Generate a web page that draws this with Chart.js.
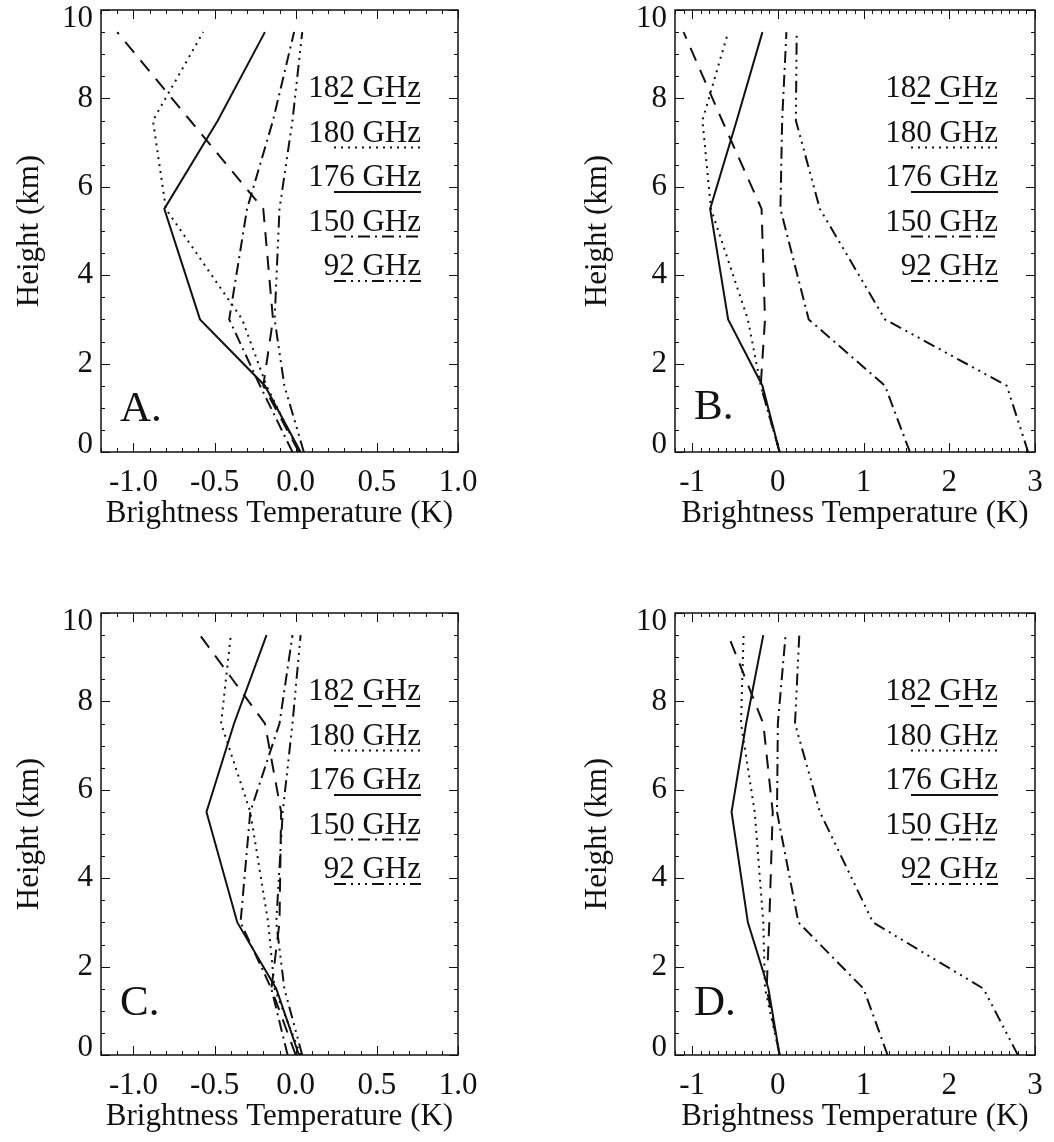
<!DOCTYPE html>
<html>
<head>
<meta charset="utf-8">
<script src="https://cdn.jsdelivr.net/npm/chart.js@4.4.0/dist/chart.umd.min.js"></script>
<style>
  body { margin: 0; background: #fff; width: 1054px; height: 1142px; position: relative; overflow: hidden; }
  .panel { position: absolute; }
</style>
</head>
<body>
<div class="panel" style="left:0px;top:0px;width:520px;height:538px"><canvas id="cA"></canvas></div>
<div class="panel" style="left:560px;top:0px;width:494px;height:538px"><canvas id="cB"></canvas></div>
<div class="panel" style="left:0px;top:603px;width:520px;height:538px"><canvas id="cC"></canvas></div>
<div class="panel" style="left:560px;top:603px;width:494px;height:538px"><canvas id="cD"></canvas></div>
<script>
// heights of the model levels (km)
const heights = [0, 1.5, 3, 5.5, 7.5, 9.5];
const freqs = ['182', '180', '176', '150', '92'];
const heightTicks = [0, 2, 4, 6, 8, 10];
const narrowTicks = [-1.0, -0.5, 0.0, 0.5, 1.0];
const wideTicks = [-1, 0, 1, 2, 3];

// brightness temperature differences (K), one value per height
const a182 = [0.02, -0.2, -0.14, -0.2, -0.65, -1.1];
const a180 = [0.02, -0.18, -0.33, -0.80, -0.88, -0.57];
const a176 = [0.03, -0.19, -0.59, -0.81, -0.48, -0.19];
const a150 = [-0.02, -0.22, -0.41, -0.30, -0.14, -0.01];
const a92 = [0.05, -0.07, -0.13, -0.10, -0.02, 0.04];

const b182 = [0.02, -0.2, -0.15, -0.19, -0.65, -1.1];
const b180 = [0.02, -0.2, -0.35, -0.78, -0.88, -0.58];
const b176 = [0.02, -0.18, -0.58, -0.79, -0.48, -0.18];
const b150 = [1.54, 1.25, 0.36, 0.03, 0.05, 0.1];
const b92 = [2.92, 2.67, 1.25, 0.49, 0.21, 0.22];

const c182 = [0.0, -0.15, -0.1, -0.09, -0.19, -0.59];
const c180 = [0.03, -0.13, -0.17, -0.28, -0.46, -0.40];
const c176 = [0.02, -0.12, -0.36, -0.55, -0.38, -0.18];
const c150 = [-0.05, -0.15, -0.34, -0.28, -0.1, -0.02];
const c92 = [0.04, -0.07, -0.12, -0.08, -0.02, 0.03];

const d182 = [0.02, -0.13, -0.1, -0.06, -0.17, -0.58];
const d180 = [0.02, -0.15, -0.17, -0.27, -0.43, -0.40];
const d176 = [0.02, -0.11, -0.35, -0.54, -0.37, -0.17];
const d150 = [1.28, 1.0, 0.24, -0.01, 0.0, 0.09];
const d92 = [2.8, 2.4, 1.11, 0.49, 0.2, 0.25];

const dashes = {
  '182': [14, 10],
  '180': [2, 5],
  '176': [],
  '150': [12, 5, 2, 5],
  '92': [12, 5, 2, 5, 2, 5, 2, 5]
};
const ink = '#111';
const serif = "'Liberation Serif', 'Times New Roman', serif";

// end labels of the height axis sit inside the frame, like the original
const nudgeLabels = {
  id: 'nudge',
  beforeDraw(chart) {
    chart.scales.y.getLabelItems().forEach(it => {
      if (it._nudged) return;
      if (it.label === '10') it.options.translation[1] += 9;
      if (it.label === '0') it.options.translation[1] -= 7;
      it._nudged = true;
    });
  }
};

// box with inward ticks, legend and panel letter
const decorPlugin = {
  id: 'decor',
  afterDraw(chart, args, opts) {
    const ctx = chart.ctx;
    const a = chart.chartArea;
    const xs = chart.scales.x, ys = chart.scales.y;
    ctx.save();
    ctx.strokeStyle = ink;
    ctx.lineWidth = 1.5;
    ctx.strokeRect(a.left, a.top, a.right - a.left, a.bottom - a.top);

    ctx.lineWidth = 1;
    ctx.beginPath();
    const nx = Math.round((xs.max - xs.min) / opts.xMinor);
    for (let i = 0; i <= nx; i++) {
      const v = xs.min + i * opts.xMinor;
      const major = Math.abs(v / opts.xMajor - Math.round(v / opts.xMajor)) < 1e-6;
      const len = major ? 9 : 4;
      const px = Math.round(xs.getPixelForValue(v)) + 0.5;
      ctx.moveTo(px, a.bottom); ctx.lineTo(px, a.bottom - len);
      ctx.moveTo(px, a.top); ctx.lineTo(px, a.top + len);
    }
    for (let v = 0; v <= 10.001; v += 0.5) {
      const major = Math.abs(v / 2 - Math.round(v / 2)) < 1e-6;
      const len = major ? 9 : 4;
      const py = Math.round(ys.getPixelForValue(v)) + 0.5;
      ctx.moveTo(a.left, py); ctx.lineTo(a.left + len, py);
      ctx.moveTo(a.right, py); ctx.lineTo(a.right - len, py);
    }
    ctx.stroke();

    // legend: text with the line style drawn as underline
    ctx.fillStyle = ink;
    ctx.font = '31px ' + serif;
    ctx.textAlign = 'right';
    ctx.textBaseline = 'alphabetic';
    const rx = a.right - 37;
    freqs.forEach((f, i) => {
      const uy = a.top + 93 + i * 44.5;
      ctx.fillText(f + ' GHz', rx, uy - 6);
      ctx.beginPath();
      ctx.setLineDash(dashes[f]);
      ctx.lineWidth = 2;
      ctx.moveTo(rx - 87, uy);
      ctx.lineTo(rx, uy);
      ctx.stroke();
    });
    ctx.setLineDash([]);

    ctx.font = '43px ' + serif;
    ctx.textAlign = 'left';
    ctx.fillText(opts.letter, a.left + 19, a.bottom - opts.letterLift);
    ctx.restore();
  }
};

function makeChart(id, series, xMin, xMax, xTicks, fmt, xMajor, xMinor, letter, letterLift, yAxisWidth, titlePad, rightPad) {
  const datasets = freqs.map((f, i) => ({
    label: f + ' GHz',
    data: series[i].map((v, k) => ({ x: v, y: heights[k] })),
    showLine: true,
    borderColor: ink,
    borderWidth: 2,
    borderDash: dashes[f],
    pointRadius: 0,
    fill: false,
    tension: 0
  }));
  new Chart(document.getElementById(id), {
    type: 'scatter',
    data: { datasets },
    plugins: [nudgeLabels, decorPlugin],
    options: {
      responsive: true,
      maintainAspectRatio: false,
      animation: false,
      layout: { padding: { top: 10, right: rightPad, bottom: 0, left: 0 } },
      plugins: {
        legend: { display: false },
        tooltip: { enabled: false },
        decor: { letter, letterLift, xMajor, xMinor }
      },
      scales: {
        x: {
          type: 'linear', min: xMin, max: xMax,
          afterBuildTicks: s => { s.ticks = xTicks.map(v => ({ value: v })); },
          afterFit: s => { s.height = 86; s.paddingLeft = 0; s.paddingRight = 0; },
          grid: { display: false, drawTicks: false },
          border: { display: false },
          ticks: { color: ink, font: { family: serif, size: 31 }, padding: 12, maxRotation: 0, autoSkip: false, callback: fmt },
          title: { display: true, text: 'Brightness Temperature (K)', color: ink, font: { family: serif, size: 31 }, padding: { top: 0, bottom: 6 } }
        },
        y: {
          type: 'linear', min: 0, max: 10,
          afterBuildTicks: s => { s.ticks = heightTicks.map(v => ({ value: v })); },
          afterFit: s => { s.width = yAxisWidth; s.paddingTop = 0; s.paddingBottom = 0; },
          grid: { display: false, drawTicks: false },
          border: { display: false },
          ticks: { color: ink, font: { family: serif, size: 31 }, padding: 8, autoSkip: false },
          title: { display: true, text: 'Height (km)', color: ink, font: { family: serif, size: 31 }, padding: { top: titlePad, bottom: 0 } }
        }
      }
    }
  });
}

const fmtNarrow = v => Number(v).toFixed(1);
const fmtWide = v => String(v);

makeChart('cA', [a182, a180, a176, a150, a92], -1.2, 1.0, narrowTicks, fmtNarrow, 0.5, 0.1, 'A.', 31, 101, 11, 62);
makeChart('cB', [b182, b180, b176, b150, b92], -1.2, 3.0, wideTicks, fmtWide, 1, 0.1, 'B.', 33, 115, 19, 19);
makeChart('cC', [c182, c180, c176, c150, c92], -1.2, 1.0, narrowTicks, fmtNarrow, 0.5, 0.1, 'C.', 40, 101, 11, 62);
makeChart('cD', [d182, d180, d176, d150, d92], -1.2, 3.0, wideTicks, fmtWide, 1, 0.1, 'D.', 40, 115, 19, 19);
</script>
</body>
</html>
